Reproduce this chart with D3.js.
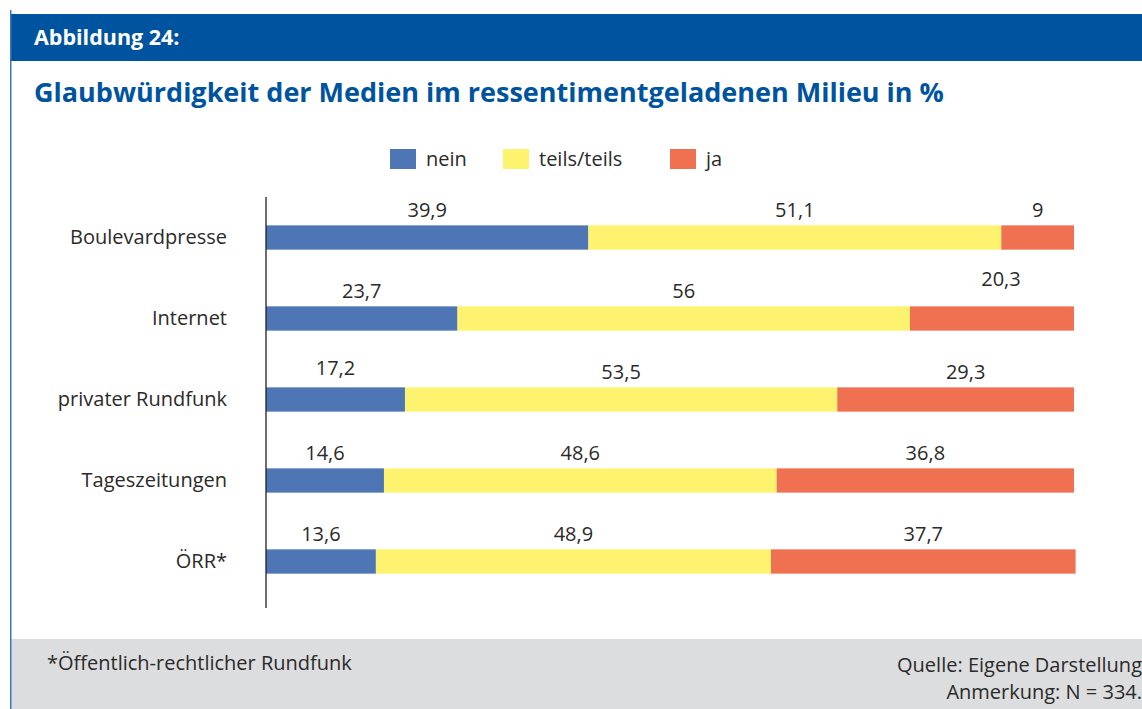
<!DOCTYPE html>
<html>
<head>
<meta charset="utf-8">
<script src="https://cdn.jsdelivr.net/npm/d3@7"></script>
<style>
  html, body { margin: 0; padding: 0; background: #fff; }
  svg { display: block; }
  text { font-family: "Open Sans", "Noto Sans", sans-serif; }
</style>
</head>
<body>
<svg id="chart" width="1142" height="709"></svg>
<script>
// ---- data ----
const categories = ["Boulevardpresse", "Internet", "privater Rundfunk", "Tageszeitungen", "ÖRR*"];
const seriesNames = ["nein", "teils/teils", "ja"];
const nein = [39.9, 23.7, 17.2, 14.6, 13.6];
const teils = [51.1, 56, 53.5, 48.6, 48.9];
const ja = [9, 20.3, 29.3, 36.8, 37.7];
const colors = ["#4E76B4", "#FEF36E", "#F07052"];

const headerText = "Abbildung 24:";
const titleText = "Glaubwürdigkeit der Medien im ressentimentgeladenen Milieu in %";
const footnoteText = "*Öffentlich-rechtlicher Rundfunk";
const sourceLines = ["Quelle: Eigene Darstellung", "Anmerkung: N = 334."];

const fmt = v => String(v).replace(".", ",");

// ---- build ----
const svg = d3.select("#chart");
const W = 1142, H = 709;
const blue = "#00549F";
const textColor = "#2B2A29";
const FONT = "'Open Sans', 'Noto Sans', sans-serif";
const FS = 20;

svg.append("rect").attr("x", 11).attr("y", 14).attr("width", W - 11).attr("height", 47).attr("fill", blue);
svg.append("rect").attr("x", 11).attr("y", 639).attr("width", W - 11).attr("height", H - 639).attr("fill", "#DCDDDF");
svg.append("rect").attr("x", 10).attr("y", 10).attr("width", 1.5).attr("height", H - 10).attr("fill", "#3C77C4");

svg.append("text").attr("x", 34).attr("y", 45).attr("fill", "#fff")
  .attr("font-size", 21.5).attr("font-weight", 700).text(headerText);
svg.append("text").attr("x", 34).attr("y", 102).attr("fill", blue)
  .attr("font-size", 27).attr("font-weight", 700).text(titleText);

// legend
const legendX = [390, 503, 670];
seriesNames.forEach((s, i) => {
  const g = svg.append("g").attr("transform", `translate(${legendX[i]},149)`);
  g.append("rect").attr("width", 26).attr("height", 20).attr("fill", colors[i]);
  g.append("text").attr("x", 36).attr("y", 17).attr("font-size", FS).attr("fill", textColor).text(s);
});

// scales
const x = d3.scaleLinear().domain([0, 100]).range([266, 1074]);
const y = d3.scaleBand().domain(categories).range([197, 602]).paddingInner(0.7).paddingOuter(0.35);

const rows = categories.map((c, i) => {
  const vals = [nein[i], teils[i], ja[i]];
  let acc = 0;
  return vals.map((v, k) => { const seg = { cat: c, k, v, x0: acc, x1: acc + v }; acc += v; return seg; });
});

const segs = rows.flat();
svg.append("g").selectAll("rect").data(segs).join("rect")
  .attr("x", d => x(d.x0))
  .attr("y", d => y(d.cat))
  .attr("width", d => x(d.x1) - x(d.x0))
  .attr("height", y.bandwidth())
  .attr("fill", d => colors[d.k]);

// value labels (a few nudged as in the original layout)
const nudge = { "Internet|2": [9, -12], "privater Rundfunk|0": [0, -4], "privater Rundfunk|2": [10, 0] };
svg.append("g").selectAll("text").data(segs).join("text")
  .attr("x", d => (x(d.x0) + x(d.x1)) / 2 + ((nudge[d.cat + "|" + d.k] || [0, 0])[0]))
  .attr("y", d => y(d.cat) - 8 + ((nudge[d.cat + "|" + d.k] || [0, 0])[1]))
  .attr("text-anchor", "middle")
  .attr("font-size", FS).attr("fill", textColor)
  .text(d => fmt(d.v));

// category axis
const yAxis = d3.axisLeft(y).tickSize(0).tickPadding(39);
const ag = svg.append("g").attr("transform", "translate(266,0)").call(yAxis);
ag.select(".domain").remove();
ag.selectAll("text").attr("font-size", FS).attr("fill", textColor).attr("font-family", FONT);
svg.append("line").attr("x1", 266).attr("x2", 266).attr("y1", 197).attr("y2", 608)
  .attr("stroke", "#231F20").attr("stroke-width", 1.3);

// footer
svg.append("text").attr("x", 47).attr("y", 670).attr("font-size", FS).attr("fill", textColor).text(footnoteText);
sourceLines.forEach((t, i) => {
  svg.append("text").attr("x", 1142).attr("y", 672 + i * 27).attr("text-anchor", "end")
    .attr("font-size", FS).attr("fill", textColor).text(t);
});
</script>
</body>
</html>
